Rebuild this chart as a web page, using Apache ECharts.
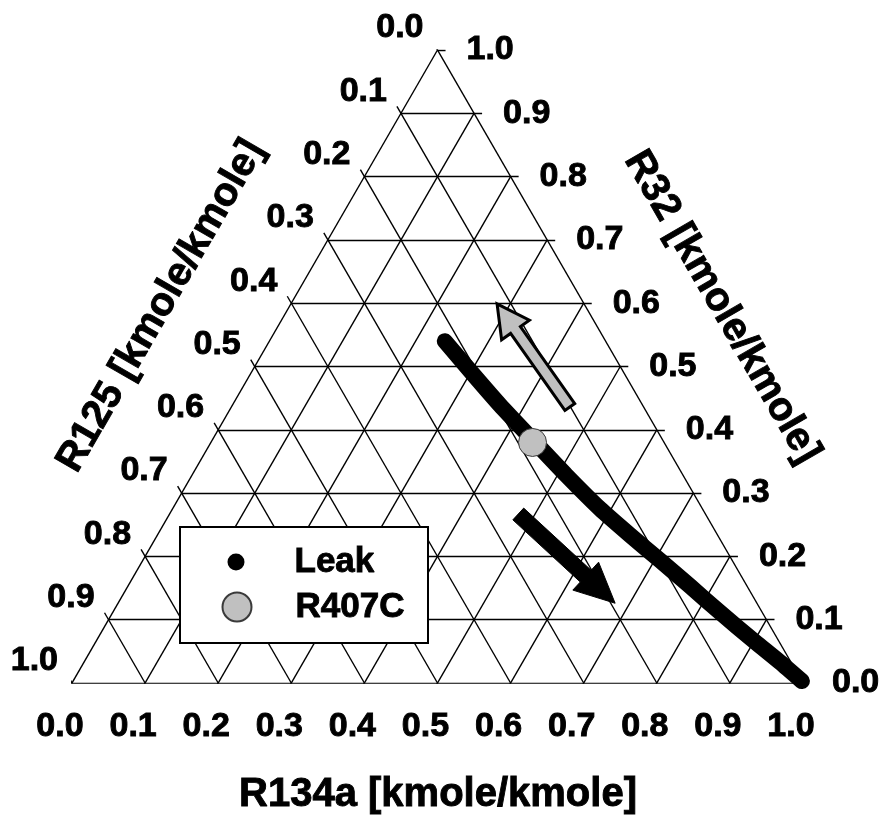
<!DOCTYPE html>
<html>
<head>
<meta charset="utf-8">
<script src="https://cdn.jsdelivr.net/npm/echarts@6/dist/echarts.min.js"></script>
<style>
  html, body { margin: 0; padding: 0; background: #ffffff; }
  #chart { width: 885px; height: 816px; }
</style>
</head>
<body>
<div id="chart"></div>
<script>
// Composition ticks shared by the three sides of the ternary diagram
const fractionTicks = [0.0, 0.1, 0.2, 0.3, 0.4, 0.5, 0.6, 0.7, 0.8, 0.9, 1.0];
const tickLabels = ['0.0', '0.1', '0.2', '0.3', '0.4', '0.5', '0.6', '0.7', '0.8', '0.9', '1.0'];

// Leak composition path: mole fractions of R134a and R32 (R125 is the remainder)
const leakR134a = [0.240, 0.297, 0.366, 0.441, 0.511, 0.585, 0.646, 0.707, 0.769, 0.830, 0.902, 0.952, 0.997];
const leakR32   = [0.540, 0.494, 0.439, 0.382, 0.329, 0.275, 0.234, 0.194, 0.153, 0.112, 0.065, 0.033, 0.003];

// Nominal R407C blend
const r407cR134a = [0.44];
const r407cR32 = [0.38];

// Direction arrows, [R134a, R32] of tail and head
const vapourArrow = { tail: [0.463, 0.436], head: [0.282, 0.599] };
const liquidArrow = { tail: [0.477, 0.267], head: [0.680, 0.126] };

const FONT_FAMILY = '"Liberation Sans", Arial, Helvetica, sans-serif';
const H = Math.sqrt(3) / 2;
// ternary (R134a, R32) -> cartesian position inside the equilateral triangle
function toXY(r134a, r32) { return [r134a + r32 / 2, r32 * H]; }

// grid lines of the three families, each extended a little past its outer edge as a tick
const TICK = 0.011;
const gridLines = [];
fractionTicks.forEach(function (v) {
  gridLines.push({ coords: [toXY(v, -TICK), toXY(v, 1 - v)] });              // constant R134a
  gridLines.push({ coords: [toXY(0, v), toXY(1 - v + TICK, v)] });            // constant R32
  gridLines.push({ coords: [toXY(-TICK, 1 - v + TICK), toXY(1 - v, 0)] });    // constant R125
});

// heavy black text used throughout
function heavyText(size) {
  return {
    font: 'bold ' + size + 'px ' + FONT_FAMILY,
    fontSize: size, fontWeight: 'bold', fontFamily: FONT_FAMILY,
    fill: '#000000', stroke: '#000000', lineWidth: 0.9
  };
}

// tick labels of one side, placed at the side's tick points with a pixel offset
function tickSeries(points, labels, align, offset) {
  return {
    type: 'custom',
    silent: true,
    z: 2,
    encode: { x: 0, y: 1 },
    data: points,
    renderItem: function (params, api) {
      const p = api.coord([api.value(0), api.value(1)]);
      return {
        type: 'text',
        x: p[0] + offset[0],
        y: p[1] + offset[1],
        style: Object.assign({ text: labels[params.dataIndex], align: align, verticalAlign: 'middle' }, heavyText(34))
      };
    }
  };
}

const bottomPoints = fractionTicks.map(function (v) { return toXY(v, 0); });
const rightPoints = fractionTicks.map(function (v) { return toXY(1 - v, v); });
const leftPoints = fractionTicks.map(function (v) { return toXY(0, 1 - v); });

const leakData = leakR134a.map(function (a, i) { return toXY(a, leakR32[i]); });
const r407cData = r407cR134a.map(function (a, i) { return toXY(a, r407cR32[i]); });

function arrowRow(arrow) {
  const t = toXY(arrow.tail[0], arrow.tail[1]);
  const h = toXY(arrow.head[0], arrow.head[1]);
  return [t[0], t[1], h[0], h[1]];
}

function arrowSeries(arrow, fill, stroke, lineWidth, shaftHalf, headHalf, headLen) {
  return {
    type: 'custom',
    silent: true,
    z: 4,
    encode: { x: [0, 2], y: [1, 3] },
    data: [arrowRow(arrow)],
    renderItem: function (params, api) {
      const T = api.coord([api.value(0), api.value(1)]);
      const P = api.coord([api.value(2), api.value(3)]);
      const dx = P[0] - T[0], dy = P[1] - T[1];
      const len = Math.sqrt(dx * dx + dy * dy);
      const ux = dx / len, uy = dy / len, nx = -uy, ny = ux;
      const B = [P[0] - ux * headLen, P[1] - uy * headLen];
      const pts = [
        [T[0] + nx * shaftHalf, T[1] + ny * shaftHalf],
        [B[0] + nx * shaftHalf, B[1] + ny * shaftHalf],
        [B[0] + nx * headHalf, B[1] + ny * headHalf],
        P,
        [B[0] - nx * headHalf, B[1] - ny * headHalf],
        [B[0] - nx * shaftHalf, B[1] - ny * shaftHalf],
        [T[0] - nx * shaftHalf, T[1] - ny * shaftHalf]
      ];
      return {
        type: 'polygon',
        shape: { points: pts },
        style: { fill: fill, stroke: stroke, lineWidth: lineWidth, lineJoin: 'miter' }
      };
    }
  };
}

const chart = echarts.init(document.getElementById('chart'), null, { renderer: 'canvas' });

const legendText = {
  fontSize: 35, fontWeight: 'bold', fontFamily: FONT_FAMILY, color: '#000', lineHeight: 40,
  textBorderColor: '#000', textBorderWidth: 0.9
};

function title(text, x, y, rotation) {
  return {
    type: 'text', x: x, y: y, rotation: rotation, z: 100,
    style: Object.assign({ text: text, align: 'center', verticalAlign: 'middle' }, heavyText(40))
  };
}

chart.setOption({
  backgroundColor: '#ffffff',
  animation: false,
  grid: { left: 72, right: 82, top: 50, bottom: 133 },
  xAxis: { type: 'value', min: 0, max: 1, show: false },
  yAxis: { type: 'value', min: 0, max: H, show: false },
  legend: [
    {
      data: [{ name: 'Leak', icon: 'circle' }],
      left: 227.5, top: 542, padding: 0,
      itemWidth: 17, itemHeight: 17,
      selectedMode: false, z: 110,
      textStyle: Object.assign({ padding: [0, 0, 0, 45] }, legendText)
    },
    {
      data: [{ name: 'R407C', icon: 'circle' }],
      left: 221.5, top: 587, padding: 0,
      itemWidth: 29, itemHeight: 29,
      selectedMode: false, z: 110,
      textStyle: Object.assign({ padding: [0, 0, 0, 39] }, legendText)
    }
  ],
  graphic: [
    {
      type: 'rect', z: 100,
      shape: { x: 180, y: 527, width: 248, height: 116 },
      style: { fill: '#ffffff', stroke: '#000000', lineWidth: 2 }
    },
    title('R134a [kmole/kmole]', 438, 795, 0),
    title('R125 [kmole/kmole]', 161, 306, Math.PI / 3),
    title('R32 [kmole/kmole]', 722, 307, -Math.PI / 3)
  ],
  series: [
    {
      type: 'lines',
      coordinateSystem: 'cartesian2d',
      silent: true,
      z: 1,
      lineStyle: { color: '#000000', width: 1.4, opacity: 1 },
      data: gridLines
    },
    tickSeries(bottomPoints, tickLabels, 'center', [-12, 44]),
    tickSeries(rightPoints, tickLabels, 'left', [29, 0]),
    tickSeries(leftPoints, tickLabels, 'right', [-14, -22]),
    {
      name: 'Leak',
      type: 'line',
      z: 3,
      color: '#000000',
      smooth: 0.2,
      showSymbol: false,
      symbol: 'circle',
      lineStyle: { color: '#000000', width: 16, cap: 'round', join: 'round' },
      itemStyle: { color: '#000000' },
      data: leakData
    },
    arrowSeries(vapourArrow, '#c0c0c0', '#000000', 3, 6, 17, 32),
    arrowSeries(liquidArrow, '#000000', '#000000', 1, 8, 19, 40),
    {
      name: 'R407C',
      type: 'scatter',
      z: 5,
      symbol: 'circle',
      symbolSize: 28,
      itemStyle: { color: '#c0c0c0', borderColor: '#3a3a3a', borderWidth: 1, opacity: 1 },
      data: r407cData
    }
  ]
});
</script>
</body>
</html>
